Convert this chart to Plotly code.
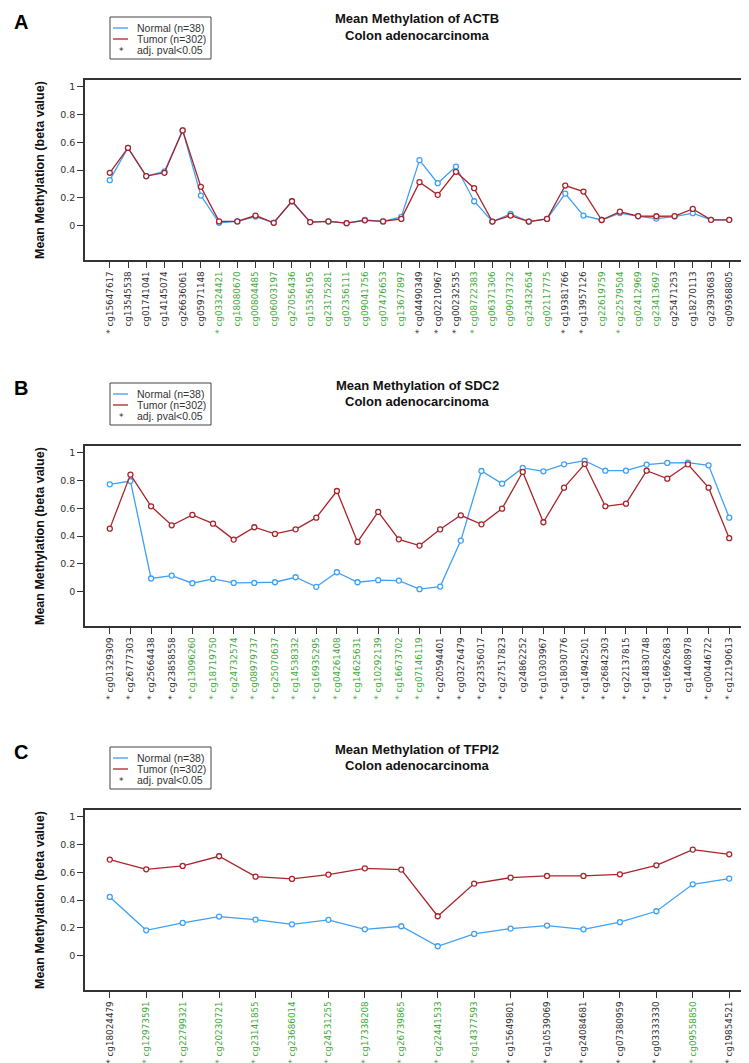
import plotly.graph_objects as go

W, H = 749, 1063

# ---------------- DATA ----------------
actb_probes = ["cg15647617", "cg13545538", "cg01741041", "cg14145074", "cg26636061", "cg05971148",
               "cg03324421", "cg18080670", "cg00804485", "cg06003197", "cg27056436", "cg15356195",
               "cg23175281", "cg02356111", "cg09041756", "cg07476653", "cg13677897", "cg04490349",
               "cg02210967", "cg00232535", "cg08722383", "cg06371306", "cg09073732", "cg23432654",
               "cg02117775", "cg19381766", "cg13957126", "cg22619759", "cg22579504", "cg02412969",
               "cg23413697", "cg25471253", "cg18270113", "cg23930683", "cg09368805"]
actb_sig = [1, 0, 0, 0, 0, 0, 1, 0, 0, 0, 0, 0, 0, 0, 0, 0, 0, 1, 1, 1, 1, 0, 0, 0, 0, 1, 1, 0, 1, 0, 0, 0, 0, 0, 0]
actb_island = [0, 0, 0, 0, 0, 0, 1, 1, 1, 1, 1, 1, 1, 1, 1, 1, 1, 0, 0, 0, 1, 1, 1, 1, 1, 0, 0, 1, 1, 1, 1, 0, 0, 0, 0]
actb_normal = [0.327, 0.56, 0.355, 0.39, 0.685, 0.216, 0.02, 0.03, 0.065, 0.02, 0.175, 0.025,
               0.03, 0.017, 0.04, 0.03, 0.062, 0.471, 0.305, 0.425, 0.175, 0.029, 0.084, 0.029,
               0.048, 0.23, 0.072, 0.04, 0.09, 0.067, 0.05, 0.065, 0.089, 0.041, 0.041]
actb_tumor = [0.38, 0.56, 0.356, 0.38, 0.685, 0.279, 0.03, 0.03, 0.072, 0.02, 0.175, 0.025,
              0.03, 0.017, 0.038, 0.03, 0.048, 0.3125, 0.221, 0.387, 0.269, 0.029, 0.072, 0.029,
              0.048, 0.288, 0.245, 0.04, 0.10, 0.068, 0.067, 0.068, 0.12, 0.041, 0.041]

sdc2_probes = ["cg01329309", "cg26777303", "cg25664438", "cg23858558", "cg13096260", "cg18719750",
               "cg24732574", "cg08979737", "cg25070637", "cg14538332", "cg16935295", "cg04261408",
               "cg14625631", "cg10292139", "cg16673702", "cg07146119", "cg20594401", "cg03276479",
               "cg23356017", "cg27517823", "cg24862252", "cg10303967", "cg18030776", "cg14942501",
               "cg26842303", "cg22137815", "cg14830748", "cg16962683", "cg14408978", "cg00446722",
               "cg12190613"]
sdc2_sig = [1] * 20 + [0] + [1] * 7 + [0, 1, 1]
sdc2_island = [0, 0, 0, 0] + [1] * 12 + [0] * 15
sdc2_normal = [0.772, 0.796, 0.094, 0.115, 0.06, 0.091, 0.062, 0.062, 0.067, 0.103, 0.034, 0.139,
               0.067, 0.082, 0.079, 0.017, 0.036, 0.367, 0.868, 0.777, 0.89, 0.866, 0.916, 0.942,
               0.87, 0.87, 0.914, 0.926, 0.928, 0.909, 0.532]
sdc2_tumor = [0.453, 0.842, 0.614, 0.477, 0.552, 0.489, 0.374, 0.463, 0.415, 0.448, 0.532, 0.724,
              0.357, 0.573, 0.376, 0.331, 0.448, 0.549, 0.484, 0.597, 0.861, 0.499, 0.748, 0.918,
              0.614, 0.633, 0.87, 0.813, 0.916, 0.748, 0.384]

tfpi2_probes = ["cg18024479", "cg12973591", "cg22799321", "cg20230721", "cg23141855", "cg23686014",
                "cg24531255", "cg17338208", "cg26739865", "cg22441533", "cg14377593", "cg15649801",
                "cg10539069", "cg24084681", "cg07380959", "cg03333330", "cg09558850", "cg19854521"]
tfpi2_sig = [1] * 18
tfpi2_island = [0, 1, 1, 1, 1, 1, 1, 1, 1, 1, 1, 0, 0, 0, 0, 0, 1, 0]
tfpi2_normal = [0.422, 0.182, 0.235, 0.281, 0.259, 0.225, 0.257, 0.189, 0.211, 0.067, 0.156, 0.194,
                0.216, 0.189, 0.24, 0.319, 0.513, 0.554]
tfpi2_tumor = [0.691, 0.621, 0.645, 0.715, 0.568, 0.552, 0.583, 0.628, 0.619, 0.283, 0.518, 0.561,
               0.573, 0.573, 0.585, 0.65, 0.763, 0.729]

panels = [
    ("A", "ACTB", actb_probes, actb_sig, actb_island, actb_normal, actb_tumor),
    ("B", "SDC2", sdc2_probes, sdc2_sig, sdc2_island, sdc2_normal, sdc2_tumor),
    ("C", "TFPI2", tfpi2_probes, tfpi2_sig, tfpi2_island, tfpi2_normal, tfpi2_tumor),
]
cancer = "Colon adenocarcinoma"
legend_labels = ["Normal (n=38)", "Tumor (n=302)", "adj. pval<0.05"]

# ---------------- STYLE ----------------
BLUE = "#3FA0F5"
RED = "#A8242A"
GREEN = "#44AA3C"
DARK = "#333333"
FONT = "DejaVu Sans"
SANS = "Liberation Sans"

plot_top = [72, 438, 802]
plot_h = 180
x_left, x_right = 77, 746


def px(x):
    return x / W


def py(y):
    return 1 - y / H


fig = go.Figure()
shapes = []
annotations = []

for i, (letter, gene, probes, sig, island, normal, tumor) in enumerate(panels):
    n = len(probes)
    xs = list(range(1, n + 1))
    ax = "" if i == 0 else str(i + 1)
    top = plot_top[i]
    off = top - 72

    fig.add_trace(go.Scatter(
        x=xs, y=normal, mode="lines+markers", xaxis="x" + ax, yaxis="y" + ax,
        line=dict(color=BLUE, width=1.3),
        marker=dict(symbol="circle", size=5, color="white", line=dict(color=BLUE, width=1.3)),
        showlegend=False, hoverinfo="x+y"))
    fig.add_trace(go.Scatter(
        x=xs, y=tumor, mode="lines+markers", xaxis="x" + ax, yaxis="y" + ax,
        line=dict(color=RED, width=1.3),
        marker=dict(symbol="circle", size=5, color="white", line=dict(color=RED, width=1.3)),
        showlegend=False, hoverinfo="x+y"))

    ticktext = []
    for p, s, isl in zip(probes, sig, island):
        col = GREEN if isl else DARK
        ticktext.append("<span style='color:%s'>%s%s</span>" % (col, "* " if s else "", p))

    pad = 0.04 * (n - 1)
    fig.update_layout(**{
        "xaxis" + ax: dict(
            domain=[px(x_left), px(x_right)], anchor="y" + ax,
            range=[1 - pad, n + pad], tickmode="array", tickvals=xs, ticktext=ticktext,
            tickangle=-90, ticks="outside", ticklen=6, tickwidth=1, tickcolor=DARK,
            tickfont=dict(family=FONT, size=8.8, color=DARK),
            showline=True, mirror=True, linecolor=DARK, linewidth=1.6,
            showgrid=False, zeroline=False),
        "yaxis" + ax: dict(
            domain=[py(top + plot_h), py(top)], anchor="x" + ax,
            range=[-0.248, 1.048], tickmode="array",
            tickvals=[0, 0.2, 0.4, 0.6, 0.8, 1], ticktext=["0", "0.2", "0.4", "0.6", "0.8", "1"],
            ticks="outside", ticklen=6, tickwidth=1, tickcolor=DARK,
            tickfont=dict(family=FONT, size=9.5, color=DARK),
            showline=True, mirror=True, linecolor=DARK, linewidth=1.6,
            showgrid=False, zeroline=False),
    })

    # panel letter
    annotations.append(dict(text="<b>%s</b>" % letter, x=px(4), y=py(14 + off), xref="paper", yref="paper",
                            xanchor="left", yanchor="middle", showarrow=False,
                            font=dict(family=SANS, size=20, color="black")))
    # titles
    annotations.append(dict(text="<b>Mean Methylation of %s</b>" % gene, x=px(409), y=py(11 + off),
                            xref="paper", yref="paper", xanchor="center", yanchor="middle", showarrow=False,
                            font=dict(family=SANS, size=13, color="#111111")))
    annotations.append(dict(text="<b>%s</b>" % cancer, x=px(409), y=py(27 + off),
                            xref="paper", yref="paper", xanchor="center", yanchor="middle", showarrow=False,
                            font=dict(family=SANS, size=13, color="#111111")))
    # y axis title
    annotations.append(dict(text="<b>Mean Methylation (beta value)</b>", x=px(32), y=py(top + plot_h / 2),
                            xref="paper", yref="paper", xanchor="center", yanchor="middle", showarrow=False,
                            textangle=-90, font=dict(family=SANS, size=12.5, color="#111111")))
    # legend box
    shapes.append(dict(type="rect", xref="paper", yref="paper", x0=px(102), x1=px(203),
                       y0=py(9 + off), y1=py(51 + off), line=dict(color="#444444", width=1),
                       fillcolor="white"))
    for j, (lab, col) in enumerate(zip(legend_labels, [BLUE, RED, None])):
        yy = 20 + 11 * j + off
        if col:
            shapes.append(dict(type="line", xref="paper", yref="paper", x0=px(105), x1=px(120),
                               y0=py(yy), y1=py(yy), line=dict(color=col, width=1.3)))
        else:
            annotations.append(dict(text="*", x=px(113), y=py(yy + 1), xref="paper", yref="paper",
                                    xanchor="center", yanchor="middle", showarrow=False,
                                    font=dict(family=FONT, size=9, color="#222222")))
        annotations.append(dict(text=lab, x=px(127), y=py(yy), xref="paper", yref="paper",
                                xanchor="left", yanchor="middle", showarrow=False,
                                font=dict(family=SANS, size=10.5, color="#333333")))

fig.update_layout(
    width=W, height=H, margin=dict(l=0, r=0, t=0, b=0),
    paper_bgcolor="white", plot_bgcolor="white",
    shapes=shapes, annotations=annotations, showlegend=False,
)

fig.write_html("out.html")
